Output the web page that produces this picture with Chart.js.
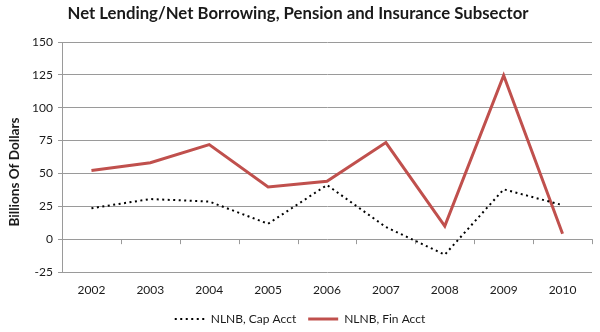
<!DOCTYPE html>
<html>
<head>
<meta charset="utf-8">
<script src="https://cdn.jsdelivr.net/npm/chart.js@4/dist/chart.umd.min.js"></script>
<style>
  body { margin: 0; background: #fff; }
  #wrap { width: 600px; height: 332px; }
</style>
</head>
<body>
<div id="wrap"><canvas id="chart"></canvas></div>
<script>
  const years = ['2002', '2003', '2004', '2005', '2006', '2007', '2008', '2009', '2010'];
  const capAcct = [23.5, 30.5, 28.6, 11.7, 41.2, 9.2, -11.8, 37.9, 25.9];
  const finAcct = [52.2, 58.1, 71.9, 39.7, 44.0, 73.5, 10.0, 124.6, 4.1];
  const yTicks = [-25, 0, 25, 50, 75, 100, 125, 150];
  const titleText = 'Net Lending/Net Borrowing, Pension and Insurance Subsector';
  const yTitleText = 'Billions Of Dollars';

  const gridColor = '#9a9a9a';
  const textColor = '#1a1a1a';
  const capDash = [2, 3.5];

  // draws a label squeezed to a given width, centred on (cx, cy)
  function drawFitted(ctx, text, font, cx, cy, width, angle) {
    ctx.save();
    ctx.font = font;
    ctx.fillStyle = textColor;
    ctx.textAlign = 'center';
    ctx.textBaseline = 'middle';
    ctx.translate(cx, cy);
    ctx.rotate(angle);
    let w = ctx.measureText(text).width;
    ctx.scale(width / w, 1);
    ctx.fillText(text, 0, 0);
    ctx.restore();
  }

  // titles are drawn by hand so they sit where the original has them
  const titlePlugin = {
    id: 'sheetTitles',
    afterDraw(chart) {
      let ctx = chart.ctx;
      drawFitted(ctx, titleText, 'bold 17px Lato', 298, 14, 461, 0);
      drawFitted(ctx, yTitleText, 'bold 14px Lato', 14, 172, 109, -Math.PI / 2);
    }
  };

  // small tick marks hanging under the zero line, between the categories
  const zeroTicks = {
    id: 'zeroTicks',
    beforeDatasetsDraw(chart) {
      let xs = chart.scales.x, ys = chart.scales.y;
      let y0 = ys.getPixelForValue(0);
      let step = xs.getPixelForValue(1) - xs.getPixelForValue(0);
      let ctx = chart.ctx;
      ctx.save();
      ctx.strokeStyle = gridColor;
      ctx.lineWidth = 1;
      ctx.beginPath();
      for (let i = 0; i <= years.length; i++) {
        let bx = Math.round(xs.getPixelForValue(0) - step / 2 + i * step) + 0.5;
        ctx.moveTo(bx, y0);
        ctx.lineTo(bx, y0 + 5);
      }
      ctx.stroke();
      ctx.restore();
    }
  };

  let chartConfig = {
    type: 'line',
    data: {
      labels: years,
      datasets: [
        {
          label: 'NLNB, Cap Acct',
          data: capAcct,
          borderColor: '#000000',
          backgroundColor: '#000000',
          borderWidth: 2,
          borderDash: capDash,
          pointRadius: 0,
          tension: 0,
        },
        {
          label: 'NLNB, Fin Acct',
          data: finAcct,
          borderColor: '#c0504d',
          backgroundColor: '#c0504d',
          borderWidth: 3,
          pointRadius: 0,
          tension: 0,
        },
      ]
    },
    options: {
      responsive: true,
      maintainAspectRatio: false,
      animation: false,
      layout: {
        padding: { top: 42, right: 8, left: 8, bottom: -3 }
      },
      plugins: {
        title: { display: false },
        tooltip: { enabled: false },
        legend: {
          display: true,
          position: 'bottom',
          labels: {
            usePointStyle: true,
            pointStyle: 'line',
            pointStyleWidth: 30,
            padding: 12,
            color: textColor,
            font: { family: 'Lato', size: 12 },
            generateLabels(chart) {
              let items = Chart.defaults.plugins.legend.labels.generateLabels(chart);
              items.forEach(item => {
                let ds = chart.data.datasets[item.datasetIndex];
                item.lineDash = ds.borderDash || [];
              });
              return items;
            }
          }
        }
      },
      scales: {
        x: {
          offset: true,
          grid: { display: false },
          border: { display: false },
          ticks: {
            color: textColor,
            font: { family: 'Lato', size: 12 },
            padding: 3,
          },
          afterFit(axis) {
            axis.height = 29;
          }
        },
        y: {
          min: -25,
          max: 150,
          afterBuildTicks(axis) {
            axis.ticks = yTicks.map(v => ({ value: v }));
          },
          afterFit(axis) {
            axis.width = 54;
          },
          grid: {
            color: gridColor,
            tickLength: 4,
          },
          border: { display: true, color: gridColor },
          ticks: {
            color: textColor,
            font: { family: 'Lato', size: 12 },
            padding: 5,
          }
        }
      }
    },
    plugins: [titlePlugin, zeroTicks]
  };

  let ctx = document.getElementById('chart').getContext('2d');
  new Chart(ctx, chartConfig);
</script>
</body>
</html>
